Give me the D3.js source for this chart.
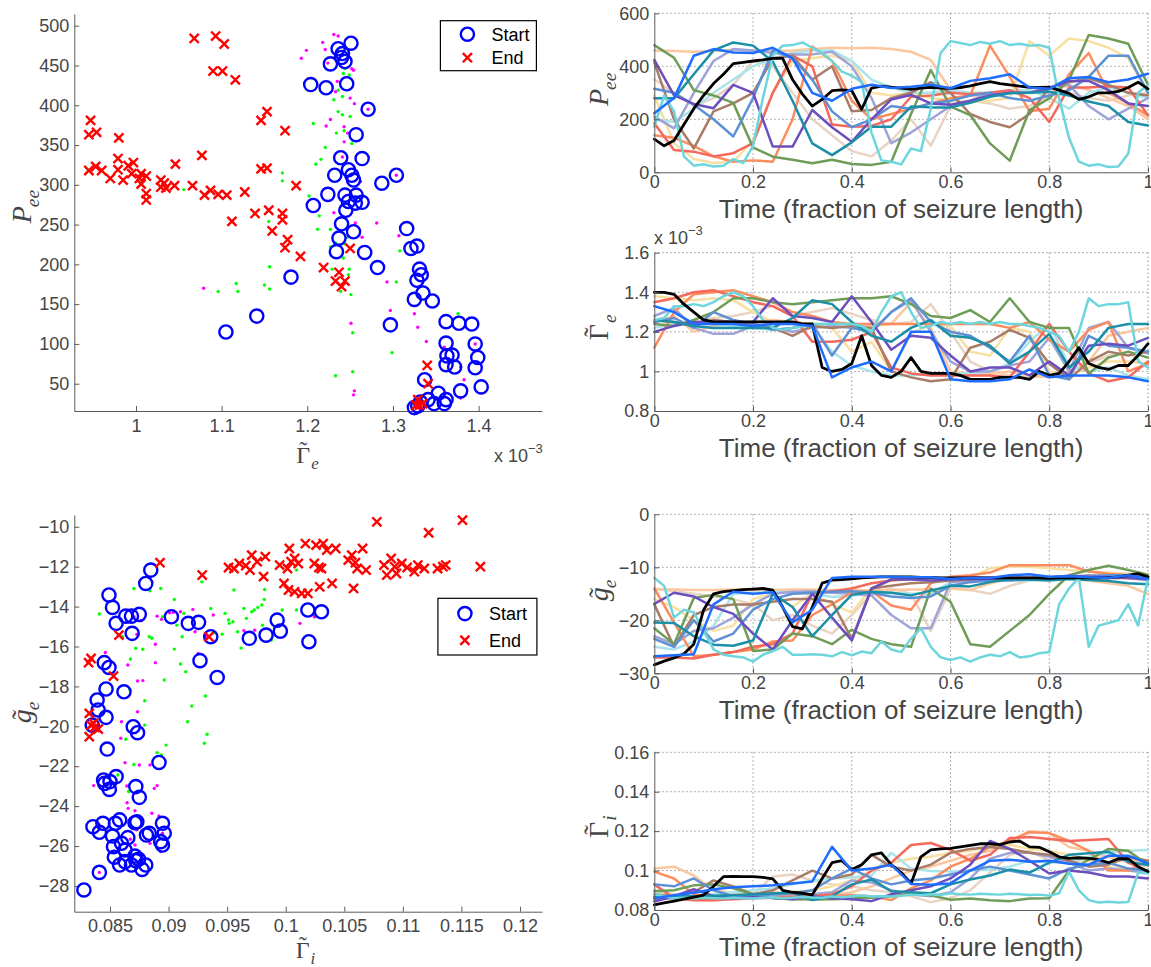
<!DOCTYPE html>
<html>
<head>
<meta charset="utf-8">
<script src="https://cdn.jsdelivr.net/npm/d3@7"></script>
<style>
  body { margin: 0; background: #fff; }
  svg { display: block; }
  text { font-family: "Liberation Sans", Arial, sans-serif; }
</style>
</head>
<body>
<svg id="fig" width="1151" height="967"></svg>
<script>
// ---------------- Scatter data: (Gamma_e [x1e-3], P_ee) ----------------
const startGammaEPee = [[1.251,478],[1.236,471],[1.241,465],[1.244,455],[1.227,452],[1.240,460],[1.204,426],[1.222,422],[1.246,427],[1.271,395],[1.257,363],[1.239,334],[1.264,333],[1.232,312],[1.248,319],[1.252,312],[1.254,306],[1.287,302],[1.304,312],[1.224,288],[1.244,287],[1.257,287],[1.207,274],[1.248,279],[1.256,277],[1.264,278],[1.245,268],[1.240,251],[1.254,241],[1.237,233],[1.234,216],[1.267,215],[1.282,196],[1.181,184],[1.316,245],[1.321,220],[1.328,223],[1.331,194],[1.333,187],[1.328,180],[1.335,164],[1.325,156],[1.346,154],[1.141,135],[1.105,115],[1.297,124],[1.362,128],[1.377,126],[1.392,125],[1.362,101],[1.396,100],[1.363,85],[1.369,86],[1.399,83],[1.362,74],[1.372,71],[1.396,70],[1.337,55],[1.379,41],[1.353,38],[1.403,46],[1.325,20],[1.332,27],[1.341,30],[1.348,25],[1.360,25],[1.362,30],[1.329,22]];
const endGammaEPee = [[0.947,381],[0.945,363],[0.954,366],[0.980,359],[0.945,318],[0.953,323],[0.960,318],[0.970,308],[0.979,333],[0.979,319],[0.985,306],[0.991,324],[0.997,328],[0.995,314],[1.004,308],[1.006,314],[1.012,311],[1.006,301],[1.012,289],[1.012,281],[1.029,306],[1.033,302],[1.029,297],[1.035,296],[1.045,299],[1.046,326],[1.066,299],[1.077,337],[1.080,287],[1.087,293],[1.096,288],[1.106,287],[1.127,291],[1.112,254],[1.139,264],[1.155,268],[1.159,242],[1.146,320],[1.153,321],[1.146,381],[1.153,392],[1.174,368],[1.171,264],[1.171,256],[1.177,231],[1.174,221],[1.192,210],[1.187,299],[1.068,484],[1.093,487],[1.103,477],[1.090,443],[1.101,443],[1.116,432],[1.219,196],[1.237,190],[1.233,179],[1.244,179],[1.240,172],[1.250,220],[1.340,73],[1.341,50],[1.329,30],[1.331,23],[1.335,25],[1.327,23]];
const midGreenGammaEPee = [[1.235,469],[1.241,463],[1.244,446],[1.242,440],[1.249,438],[1.236,419],[1.231,407],[1.241,411],[1.236,392],[1.241,388],[1.250,386],[1.207,377],[1.234,365],[1.243,368],[1.221,347],[1.216,332],[1.210,326],[1.252,352],[1.171,315],[1.171,305],[1.056,294],[1.202,286],[1.214,261],[1.212,244],[1.155,254],[1.227,244],[1.227,222],[1.233,227],[1.244,226],[1.247,234],[1.229,194],[1.242,208],[1.249,194],[1.248,187],[1.156,197],[1.150,174],[1.156,169],[1.117,176],[1.119,166],[1.096,166],[1.239,166],[1.251,162],[1.304,178],[1.308,217],[1.299,89],[1.253,114],[1.253,65],[1.233,60],[1.376,138]];
const midMagentaGammaEPee = [[1.231,489],[1.236,487],[1.218,479],[1.199,469],[1.193,459],[1.221,470],[1.224,453],[1.252,446],[1.254,444],[1.235,430],[1.233,417],[1.250,409],[1.255,402],[1.227,382],[1.222,374],[1.243,373],[1.247,365],[1.243,354],[1.241,335],[1.262,304],[1.231,265],[1.256,252],[1.264,234],[1.281,252],[1.307,236],[1.079,170],[1.293,178],[1.297,142],[1.325,138],[1.329,121],[1.251,126],[1.339,103],[1.360,96],[1.379,71],[1.383,55],[1.379,32],[1.255,41],[1.254,36],[1.304,312],[1.271,395],[1.396,100],[1.345,38]];

// ---------------- Scatter data: (Gamma_i, g_e) ----------------
const startGammaIGe = [[0.08277,-28.20],[0.08409,-27.32],[0.08354,-25.03],[0.08409,-25.31],[0.08439,-24.86],[0.08546,-24.86],[0.08582,-24.69],[0.08713,-24.83],[0.08729,-24.78],[0.08521,-25.50],[0.08652,-25.58],[0.08811,-25.45],[0.08835,-25.36],[0.08948,-24.86],[0.08963,-25.36],[0.08933,-25.78],[0.08948,-25.95],[0.08530,-26.03],[0.08598,-25.86],[0.08537,-26.56],[0.08582,-26.95],[0.08628,-26.78],[0.08683,-26.95],[0.08713,-26.50],[0.08720,-26.73],[0.08744,-26.66],[0.08774,-27.17],[0.08805,-26.95],[0.08628,-26.20],[0.08454,-22.86],[0.08500,-22.77],[0.08552,-22.52],[0.08494,-23.16],[0.08445,-22.69],[0.08720,-23.02],[0.08750,-23.56],[0.08476,-21.14],[0.08918,-21.81],[0.08698,-20.02],[0.08735,-20.32],[0.08348,-19.94],[0.08399,-19.18],[0.08390,-18.68],[0.08466,-19.55],[0.08466,-18.13],[0.08619,-18.27],[0.08451,-16.81],[0.08491,-17.05],[0.09268,-16.71],[0.09415,-17.55],[0.09360,-15.51],[0.08689,-15.34],[0.08552,-14.84],[0.08521,-14.04],[0.08491,-13.42],[0.08634,-14.48],[0.08683,-14.48],[0.08750,-14.39],[0.08805,-12.84],[0.08848,-12.17],[0.09024,-14.51],[0.09168,-14.84],[0.09256,-14.79],[0.09689,-15.59],[0.09832,-15.43],[0.09954,-15.23],[0.09927,-14.68],[0.10189,-14.17],[0.10305,-14.26],[0.10198,-15.76]];
const endGammaIGe = [[0.08317,-16.81],[0.08338,-16.60],[0.08323,-19.35],[0.08338,-19.94],[0.08369,-20.05],[0.08399,-20.14],[0.08323,-20.52],[0.08360,-19.85],[0.08530,-17.48],[0.08576,-15.43],[0.08927,-11.80],[0.09287,-12.42],[0.09345,-15.51],[0.09512,-12.04],[0.09558,-12.09],[0.09604,-11.84],[0.09659,-11.95],[0.09695,-12.17],[0.09710,-11.42],[0.09756,-11.75],[0.09811,-12.50],[0.09826,-11.50],[0.09948,-11.92],[0.09985,-12.84],[0.10015,-12.09],[0.10031,-11.09],[0.10046,-11.75],[0.10076,-11.59],[0.10107,-11.84],[0.10024,-13.17],[0.10076,-13.26],[0.10137,-13.34],[0.10168,-10.84],[0.10189,-13.34],[0.10244,-11.84],[0.10284,-12.04],[0.10290,-13.01],[0.10305,-12.09],[0.10259,-10.92],[0.10320,-10.84],[0.10351,-11.17],[0.10396,-12.84],[0.10427,-11.09],[0.10534,-11.67],[0.10564,-11.42],[0.10579,-13.09],[0.10595,-11.80],[0.10610,-12.09],[0.10656,-11.09],[0.10686,-12.17],[0.10778,-9.75],[0.10839,-11.92],[0.10863,-12.42],[0.10900,-11.59],[0.10930,-12.00],[0.10945,-12.34],[0.10991,-11.84],[0.11037,-12.04],[0.11098,-12.25],[0.11128,-11.92],[0.11183,-12.09],[0.11220,-10.30],[0.11296,-12.09],[0.11342,-12.00],[0.11366,-11.92],[0.11509,-9.67],[0.11662,-12.00]];
const midGreenGammaIGe = [[0.08409,-14.37],[0.08704,-13.09],[0.08841,-13.21],[0.08933,-13.09],[0.09284,-12.76],[0.09049,-13.64],[0.09070,-14.93],[0.09131,-14.34],[0.09116,-15.51],[0.09049,-16.13],[0.09101,-16.88],[0.09146,-17.26],[0.08963,-17.68],[0.09198,-18.98],[0.09162,-19.77],[0.09329,-20.40],[0.09305,-20.85],[0.09314,-18.48],[0.08979,-20.94],[0.08902,-21.32],[0.08939,-21.44],[0.08796,-19.94],[0.08796,-18.72],[0.08674,-16.63],[0.08720,-16.09],[0.08780,-16.14],[0.08607,-15.51],[0.08835,-15.51],[0.08668,-18.15],[0.08634,-20.65],[0.08567,-22.44],[0.08704,-21.91],[0.08659,-23.27],[0.09457,-15.38],[0.09384,-15.31],[0.09482,-14.34],[0.09558,-13.17],[0.09589,-15.26],[0.09518,-14.84],[0.09549,-14.76],[0.09643,-14.09],[0.09665,-14.59],[0.09710,-14.26],[0.09731,-14.17],[0.09762,-14.04],[0.09796,-13.92],[0.09817,-13.64],[0.09820,-13.14],[0.09802,-14.93],[0.09878,-15.68],[0.09970,-14.17],[0.10092,-12.17],[0.10092,-14.17],[0.09619,-16.08],[0.10250,-14.51],[0.08948,-14.51],[0.09360,-14.09],[0.09512,-14.67],[0.08857,-15.59]];
const midMagentaGammaIGe = [[0.08460,-16.30],[0.08652,-16.93],[0.08735,-17.73],[0.08780,-17.71],[0.08735,-19.27],[0.08598,-19.77],[0.08592,-20.60],[0.08628,-21.82],[0.08643,-22.99],[0.08750,-21.94],[0.08841,-21.94],[0.08646,-23.83],[0.08655,-24.11],[0.08713,-24.23],[0.08902,-22.97],[0.08878,-23.11],[0.08857,-24.36],[0.08918,-24.49],[0.08360,-22.97],[0.08729,-25.19],[0.08674,-25.66],[0.08841,-25.86],[0.08948,-25.36],[0.08933,-26.28],[0.08774,-26.50],[0.08713,-25.95],[0.08902,-14.48],[0.09040,-14.29],[0.09101,-14.26],[0.09207,-14.14],[0.09381,-14.42],[0.09339,-15.51],[0.09253,-16.35],[0.09226,-15.26],[0.08887,-15.89],[0.08887,-16.81],[0.08939,-14.64],[0.09009,-14.31],[0.09314,-15.51],[0.09643,-15.21],[0.09735,-15.18],[0.10122,-14.84],[0.10244,-14.51],[0.08704,-14.51],[0.08765,-14.71],[0.08729,-15.39],[0.08409,-27.32]];

// ---------------- Time courses (one trace per seizure) ----------------
const seriesNames  = ["beige","cream","peach","lightcyan","lavender","orange","red","brown","green","steelblue","purple","teal","cyan","black","blue"];
const seriesColors = ["#e9d4c4","#f8dfa2","#fcc79e","#a9e4ea","#9ea3d8","#fc8d5e","#f5685c","#a87c67","#6f9c57","#5e90d4","#6b4fbe","#1b8fa7","#6dd6dd","#000000","#1f6dff"];

const peeTraces = [
  [350,300,250,280,330,420,400,300,200,140,80,60,120,200,100,250,270,260,240,250,290,300,280,270,290,300],
  [290,110,50,35,40,120,300,420,430,440,420,300,290,300,280,270,265,270,280,495,440,505,495,470,430,300],
  [460,458,455,458,462,460,458,460,465,470,468,470,465,455,424,311,290,290,300,310,300,330,310,280,250,200],
  [200,190,240,300,350,400,430,450,460,460,420,350,320,300,300,310,300,300,310,310,280,240,300,320,300,280],
  [210,166,300,420,465,460,450,445,445,455,400,280,110,150,200,250,270,300,300,300,320,330,250,200,240,280],
  [140,130,100,60,40,45,40,200,475,420,270,200,220,240,260,280,290,478,360,230,240,370,450,300,260,215],
  [185,84,78,60,72,110,300,440,400,180,172,175,200,285,290,300,295,300,310,280,190,320,320,325,320,215],
  [415,200,90,230,260,300,430,440,350,400,230,235,280,300,340,300,220,190,170,220,320,340,355,330,300,290],
  [480,432,310,290,262,94,59,47,34,47,31,28,40,220,386,248,216,109,44,235,279,348,518,505,485,330],
  [315,300,255,200,135,280,460,430,350,230,170,200,250,240,260,270,290,300,280,270,290,310,360,440,440,300],
  [424,290,258,242,330,300,97,97,235,170,115,200,275,292,260,255,270,290,300,300,315,345,345,310,260,250],
  [279,279,370,460,490,478,418,270,109,65,113,172,172,248,245,245,262,285,298,300,304,290,267,250,190,177],
  [172,290,230,60,25,30,22,25,50,35,100,280,440,478,480,490,470,450,420,380,365,340,150,45,40,30,90,80,240,450,495,488,480,492,485,495,480,485,478,480,470,280,130,40,25,30,20,22,70,300,330],
  [125,100,120,180,240,290,335,370,410,415,420,424,430,430,350,295,250,275,308,311,308,238,318,325,321,318,313,318,321,318,317,320,326,335,342,335,330,325,321,320,321,310,298,275,285,300,300,305,320,340,315],
  [223,280,440,465,452,450,470,430,300,270,315,330,318,323,330,317,345,355,370,320,315,355,360,340,350,372]
];

// Gamma_e in units of 1e-3
const gammaETraces = [
  [1.26,1.24,1.25,1.27,1.28,1.30,1.33,1.28,1.30,1.32,1.29,1.26,1.24,1.25,1.34,1.20,1.05,1.00,0.98,0.97,0.98,1.00,1.04,1.08,1.10,1.02],
  [1.38,1.37,1.36,1.37,1.36,1.30,1.25,1.24,1.23,1.22,1.10,1.15,1.00,1.19,1.24,1.23,1.10,1.08,1.22,1.20,1.00,0.98,1.02,1.05,1.05,1.04],
  [1.25,1.28,1.20,1.23,1.24,1.25,1.26,1.25,1.24,1.24,1.24,1.23,1.24,1.35,1.22,1.00,0.99,0.99,1.00,0.98,0.97,1.00,1.05,1.18,1.20,1.22],
  [1.22,1.24,1.25,1.24,1.23,1.22,1.21,1.22,1.23,1.10,1.03,1.00,0.98,0.98,0.99,0.99,0.99,1.00,1.04,1.15,1.24,1.03,1.00,1.02,0.98,0.96],
  [1.28,1.32,1.22,1.19,1.19,1.23,1.22,1.20,1.22,1.23,1.22,1.20,1.30,1.36,1.20,1.05,1.00,1.00,1.03,1.05,1.17,1.00,1.22,1.25,1.12,1.09],
  [1.12,1.30,1.39,1.40,1.41,1.38,1.35,1.30,1.28,1.25,1.24,1.24,1.24,1.24,1.24,1.24,1.24,1.24,1.22,1.25,1.16,1.10,1.21,1.25,1.00,1.04],
  [1.35,1.37,1.40,1.41,1.38,1.35,1.33,1.28,1.15,1.15,1.16,1.20,1.02,0.99,0.98,0.98,0.98,0.98,0.97,1.10,1.24,1.10,0.99,0.95,0.97,1.05],
  [1.26,1.25,1.23,1.26,1.25,1.24,1.22,1.18,1.23,1.22,1.23,1.22,1.00,0.97,0.95,0.96,1.12,1.15,1.21,1.17,1.04,0.96,1.05,1.10,1.08,1.10],
  [1.24,1.23,1.26,1.30,1.37,1.37,1.35,1.34,1.35,1.36,1.37,1.37,1.38,1.34,1.28,1.27,1.31,1.25,1.37,1.25,1.22,1.22,0.99,1.07,1.10,1.07],
  [1.25,1.27,1.22,1.30,1.26,1.24,1.21,1.22,1.24,1.08,1.22,1.20,1.30,1.37,1.25,1.20,1.18,1.12,1.05,1.18,0.98,0.96,1.18,1.13,1.12,1.10],
  [1.20,1.23,1.25,1.25,1.25,1.25,1.37,1.28,1.27,1.25,1.38,1.25,1.11,1.18,1.17,1.08,1.00,1.02,1.02,0.98,1.05,0.98,1.13,1.14,1.13,1.17],
  [1.26,1.25,1.23,1.22,1.22,1.22,1.22,1.27,1.36,1.34,1.25,1.18,1.15,1.22,1.26,1.18,1.17,1.13,1.04,1.10,1.19,1.02,1.10,1.22,1.24,1.24],
  [1.26,1.27,1.33,1.33,1.34,1.33,1.35,1.38,1.40,1.38,1.33,1.26,1.22,1.21,1.22,1.23,1.24,1.24,1.24,1.24,1.24,1.23,1.20,1.30,1.38,1.40,1.30,1.22,1.23,1.25,1.24,1.25,1.24,1.25,1.24,1.25,1.24,1.24,1.23,1.22,1.20,1.18,1.10,1.20,1.37,1.33,1.34,1.34,1.35,1.05,1.02],
  [1.40,1.40,1.39,1.34,1.30,1.26,1.25,1.25,1.25,1.25,1.25,1.25,1.25,1.25,1.25,1.24,1.24,1.02,1.00,1.01,1.04,1.18,1.03,0.98,0.97,1.00,1.07,1.00,0.99,0.99,0.99,0.98,0.96,0.96,0.96,0.97,0.97,0.97,0.96,1.00,0.98,0.99,1.05,1.12,1.04,1.02,1.01,1.03,1.03,1.08,1.14],
  [1.33,1.30,1.24,1.24,1.24,1.23,1.24,1.24,1.23,0.97,1.02,1.05,1.00,1.20,1.20,0.96,0.95,0.95,0.96,1.01,0.97,0.98,0.98,0.98,0.97,0.95]
];

const geTraces = [
  [-14.0,-14.5,-15.0,-15.5,-16.0,-17.0,-20.0,-19.0,-21.0,-22.5,-19.0,-15.0,-14.0,-15.0,-22.0,-14.0,-14.3,-15.0,-13.5,-12.5,-12.3,-12.0,-12.0,-11.8,-12.0,-12.5],
  [-16.0,-17.5,-20.0,-22.0,-21.0,-16.0,-15.0,-17.5,-14.8,-17.0,-18.5,-14.0,-12.5,-12.0,-12.0,-12.3,-12.0,-10.2,-9.8,-9.9,-10.2,-10.5,-10.8,-11.0,-11.2,-11.5],
  [-14.2,-14.2,-14.3,-14.3,-14.2,-14.3,-14.3,-14.2,-14.2,-14.3,-14.3,-14.4,-14.3,-14.2,-14.2,-14.0,-14.3,-13.0,-12.2,-12.0,-12.0,-12.2,-12.5,-13.0,-13.5,-15.0],
  [-25.0,-25.5,-24.0,-21.0,-15.0,-14.8,-14.6,-14.8,-15.0,-15.6,-15.3,-15.0,-14.8,-15.0,-15.0,-12.8,-12.5,-12.5,-12.4,-12.5,-12.3,-12.2,-12.0,-12.0,-12.0,-12.5],
  [-23.0,-24.5,-22.0,-21.5,-19.5,-17.0,-15.0,-14.6,-14.5,-14.8,-15.0,-15.3,-19.0,-21.5,-21.5,-12.8,-12.5,-12.4,-12.3,-12.2,-12.0,-11.8,-11.5,-11.5,-11.6,-12.0],
  [-14.0,-20.4,-26.8,-26.5,-26.0,-25.5,-24.0,-23.8,-19.0,-17.0,-14.7,-14.5,-17.2,-18.0,-13.0,-11.8,-11.5,-11.0,-9.6,-9.6,-9.6,-9.6,-10.8,-11.2,-11.5,-11.8],
  [-27.0,-27.0,-27.2,-26.5,-26.0,-25.0,-24.5,-22.5,-15.0,-14.5,-14.0,-13.0,-12.5,-12.2,-12.0,-12.0,-11.8,-12.0,-12.0,-12.0,-12.2,-12.0,-12.0,-12.0,-12.0,-12.0],
  [-17.0,-25.0,-19.0,-17.5,-17.0,-17.0,-16.5,-16.0,-16.0,-16.5,-23.5,-14.0,-13.5,-13.0,-12.8,-12.5,-12.3,-12.0,-12.0,-12.2,-12.0,-11.8,-11.8,-11.8,-11.9,-12.0],
  [-21.5,-24.5,-15.8,-15.2,-16.0,-25.8,-25.5,-22.5,-23.0,-24.5,-21.8,-23.5,-24.5,-25.0,-14.0,-16.5,-24.5,-25.0,-22.0,-19.0,-15.0,-11.5,-10.5,-9.7,-10.5,-11.4],
  [-23.5,-25.0,-20.0,-24.0,-22.5,-18.0,-16.0,-15.0,-14.8,-14.6,-14.5,-14.8,-15.5,-15.8,-15.5,-13.5,-12.8,-12.5,-12.5,-12.3,-12.2,-12.0,-11.8,-11.5,-11.5,-11.8],
  [-16.9,-14.8,-15.5,-17.5,-18.8,-22.5,-25.5,-20.0,-15.0,-19.5,-23.8,-14.0,-12.3,-12.3,-12.5,-12.3,-12.2,-12.2,-12.0,-12.0,-11.9,-11.6,-11.8,-11.9,-12.0,-12.3],
  [-20.4,-20.5,-23.0,-24.6,-24.8,-23.8,-15.0,-17.5,-23.0,-19.0,-15.2,-14.6,-14.8,-15.3,-14.4,-13.5,-13.6,-12.8,-12.2,-12.3,-12.5,-12.2,-12.4,-12.6,-13.0,-13.2],
  [-12.0,-13.5,-19.5,-18.0,-18.5,-22.0,-25.5,-26.5,-26.8,-27.0,-27.8,-26.5,-25.8,-25.0,-26.5,-26.5,-26.4,-26.5,-26.8,-26.0,-26.6,-25.9,-26.2,-24.0,-25.5,-26.0,-23.5,-21.5,-25.0,-27.0,-27.5,-27.0,-27.8,-27.0,-26.5,-26.8,-26.0,-27.0,-26.8,-26.2,-26.0,-17.0,-14.0,-12.0,-25.0,-21.0,-20.5,-20.0,-17.0,-21.0,-12.0],
  [-28.4,-27.7,-27.1,-26.3,-24.5,-18.0,-15.0,-14.6,-14.4,-14.2,-14.1,-14.0,-14.3,-17.5,-21.2,-21.6,-17.5,-13.0,-12.4,-12.3,-12.2,-12.0,-11.9,-11.8,-11.8,-11.8,-11.8,-11.9,-11.9,-12.0,-12.0,-12.0,-12.0,-12.0,-12.0,-12.0,-12.0,-12.0,-12.0,-12.0,-12.1,-12.0,-12.0,-12.0,-12.0,-12.0,-12.0,-11.8,-11.5,-11.2,-11.8],
  [-26.8,-26.6,-26.4,-17.0,-14.6,-15.0,-14.7,-20.4,-18.0,-12.0,-11.8,-11.8,-11.8,-11.9,-11.9,-12.2,-12.0,-12.0,-11.5,-11.3,-11.8,-11.7,-11.9,-12.0,-11.5,-12.2]
];

const gammaITraces = [
  [0.0900,0.0880,0.0865,0.0860,0.0870,0.0880,0.0970,0.0980,0.0950,0.0930,0.0920,0.0900,0.0890,0.0870,0.0840,0.0860,0.0900,0.0990,0.1080,0.1100,0.1050,0.1040,0.1060,0.1070,0.1040,0.1020],
  [0.0880,0.0860,0.0855,0.0850,0.0860,0.0870,0.0880,0.0890,0.0900,0.0920,0.0950,0.1000,0.1040,0.1060,0.1070,0.1090,0.1100,0.1120,0.1130,0.1110,0.1100,0.1080,0.1050,0.1020,0.1000,0.0990],
  [0.1010,0.1020,0.0975,0.0900,0.0885,0.0880,0.0890,0.0880,0.0870,0.0875,0.0890,0.0920,0.0960,0.1000,0.1020,0.1050,0.1080,0.1100,0.1150,0.1200,0.1190,0.1120,0.1100,0.1070,0.1060,0.1040],
  [0.0860,0.0865,0.0870,0.0880,0.0890,0.0900,0.0910,0.0930,0.0950,0.0960,0.0965,0.0975,0.1090,0.1010,0.0998,0.0995,0.1000,0.1005,0.1020,0.1050,0.1040,0.1045,0.1070,0.1090,0.1100,0.1105],
  [0.0855,0.0860,0.0858,0.0862,0.0865,0.0870,0.0868,0.0875,0.0880,0.0890,0.0950,0.0940,0.0900,0.0880,0.0870,0.0890,0.0960,0.1060,0.1090,0.1090,0.1070,0.1040,0.1000,0.1010,0.1000,0.0990],
  [0.0995,0.0960,0.0880,0.0865,0.0860,0.0862,0.0865,0.0868,0.0870,0.0872,0.0875,0.0870,0.0850,0.0910,0.0950,0.1020,0.1060,0.1120,0.1150,0.1195,0.1190,0.1150,0.1100,0.1000,0.1000,0.1050],
  [0.0930,0.0860,0.0850,0.0850,0.0855,0.0860,0.0862,0.0865,0.0870,0.0880,0.0920,0.1000,0.1040,0.1130,0.1140,0.1105,0.1050,0.1080,0.1165,0.1170,0.1160,0.1150,0.1155,0.1160,0.1040,0.0995],
  [0.0880,0.0870,0.0890,0.0950,0.0920,0.0880,0.0900,0.0950,0.1000,0.0960,0.0980,0.1080,0.1020,0.1000,0.1030,0.1090,0.1110,0.1120,0.1110,0.1090,0.1080,0.1050,0.1020,0.1030,0.1070,0.1050],
  [0.0895,0.0900,0.0925,0.0930,0.0910,0.0880,0.0860,0.0855,0.0853,0.0855,0.0858,0.0862,0.0870,0.0880,0.0875,0.0852,0.0858,0.0850,0.0845,0.0858,0.0860,0.1000,0.1055,0.1110,0.1100,0.1028],
  [0.0930,0.0920,0.0960,0.0900,0.0870,0.0870,0.0880,0.0885,0.0900,0.0960,0.1010,0.0960,0.0930,0.0950,0.0960,0.0980,0.1000,0.1020,0.1000,0.0980,0.0960,0.1010,0.1030,0.1040,0.1010,0.1000],
  [0.0843,0.0870,0.0905,0.0870,0.0860,0.0865,0.0862,0.0855,0.0870,0.0860,0.0855,0.0845,0.0880,0.0900,0.0920,0.0960,0.1030,0.1150,0.1110,0.1050,0.0985,0.1000,0.0990,0.0970,0.0970,0.0960],
  [0.0868,0.0868,0.0870,0.0872,0.0875,0.0880,0.0885,0.0888,0.0850,0.0870,0.0930,0.0955,0.0895,0.0890,0.0885,0.0930,0.0955,0.0975,0.1005,0.0990,0.1040,0.1080,0.1088,0.1095,0.1045,0.1028],
  [0.0880,0.0870,0.0860,0.0862,0.0858,0.0862,0.0860,0.0858,0.0862,0.0860,0.0858,0.0862,0.0865,0.0860,0.0862,0.0866,0.0863,0.0862,0.0868,0.0865,0.0870,0.0873,0.0868,0.0870,0.0868,0.0872,0.0878,0.0875,0.0880,0.0876,0.0885,0.0880,0.0878,0.0882,0.0880,0.0878,0.0882,0.0880,0.0876,0.0878,0.0872,0.0885,0.0995,0.0900,0.0850,0.0838,0.0842,0.0838,0.0840,0.0990,0.0985],
  [0.0826,0.0836,0.0845,0.0855,0.0865,0.0876,0.0920,0.0969,0.0970,0.0969,0.0969,0.0965,0.0958,0.0900,0.0890,0.0885,0.0877,0.0960,0.1040,0.1050,0.1005,0.1030,0.1080,0.1090,0.1030,0.0990,0.0935,0.1070,0.1105,0.1110,0.1113,0.1120,0.1128,0.1136,0.1136,0.1132,0.1145,0.1150,0.1120,0.1118,0.1095,0.1070,0.1062,0.1065,0.1062,0.1055,0.1040,0.1060,0.1060,0.1020,0.0995],
  [0.0859,0.0875,0.0888,0.0905,0.0915,0.0920,0.0925,0.0935,0.0945,0.1120,0.1000,0.1010,0.1030,0.0932,0.0928,0.0935,0.1000,0.1050,0.1055,0.1045,0.1050,0.1035,0.1030,0.1075,0.1075,0.1037]
];

// ---------------- Tick values ----------------
const gammaETicksScatter = [1, 1.1, 1.2, 1.3, 1.4];
const peeTicksScatter    = [50, 100, 150, 200, 250, 300, 350, 400, 450, 500];
const gammaITicksScatter = [0.085, 0.09, 0.095, 0.1, 0.105, 0.11, 0.115, 0.12];
const geTicksScatter     = [-28, -26, -24, -22, -20, -18, -16, -14, -12, -10];
const timeTicks   = [0, 0.2, 0.4, 0.6, 0.8, 1];
const peeTicks    = [0, 200, 400, 600];
const gammaETicks = [0.8, 1, 1.2, 1.4, 1.6];
const geTicks     = [-30, -20, -10, 0];
const gammaITicks = [0.08, 0.1, 0.12, 0.14, 0.16];
const legendLabels = ["Start", "End"];
const timeLabel = "Time (fraction of seizure length)";

// ---------------- Drawing ----------------
const svg = d3.select("#fig");
svg.append("rect").attr("width", 1151).attr("height", 967).attr("fill", "#fff");

const TEXT = "#454545";
const AXIS = "#5a5a5a";
const fmtTick = d => String(+d.toFixed(4)).replace("-", "\u2212");

function styleAxis(g, fontSize) {
  g.select(".domain").attr("stroke", AXIS).attr("stroke-width", 1);
  g.selectAll(".tick line").attr("stroke", AXIS).attr("stroke-width", 1);
  g.selectAll(".tick text").attr("fill", TEXT).style("font-size", fontSize + "px")
    .style("font-family", "'Liberation Sans', Arial, sans-serif");
}

// math-style axis label: base glyph, optional tilde accent, subscript
function mathLabel(parent, spec, cx, cy, rot, size) {
  const g = parent.append("g").attr("transform", `translate(${cx},${cy}) rotate(${rot})`);
  const inner = g.append("g");
  const serif = "'Liberation Serif', 'Times New Roman', serif";
  const base = inner.append("text").attr("x", 0).attr("y", 0.33 * size)
    .attr("fill", TEXT).style("font-family", serif).style("font-size", size + "px")
    .style("font-style", spec.italic ? "italic" : "normal").text(spec.base);
  const wb = base.node().getComputedTextLength();
  const sub = inner.append("text").attr("x", wb + (spec.italic ? -1 : 1)).attr("y", 0.33 * size + 0.26 * size)
    .attr("fill", TEXT).style("font-family", serif).style("font-size", (size * 0.7) + "px")
    .style("font-style", "italic").text(spec.sub);
  const ws = sub.node().getComputedTextLength();
  if (spec.tilde) {
    inner.append("text").attr("x", wb / 2 + (spec.italic ? size * 0.06 : 0))
      .attr("y", 0.33 * size - (spec.italic ? 0.0 : 0.2) * size)
      .attr("text-anchor", "middle").attr("fill", TEXT)
      .style("font-family", serif).style("font-size", size + "px").text("\u02DC");
  }
  inner.attr("transform", `translate(${-(wb + ws) / 2},0)`);
}

function exponentNote(parent, x, y) {
  const t = parent.append("text").attr("x", x).attr("y", y).attr("fill", TEXT).style("font-size", "18px");
  t.append("tspan").text("x 10");
  t.append("tspan").attr("dy", -9).style("font-size", "13px").text("\u22123");
}

function drawScatter(cfg) {
  const x = d3.scaleLinear().domain(cfg.xDomain).range([74.3, 542]);
  const y = d3.scaleLinear().domain(cfg.yDomain).range([cfg.bottom, cfg.top]);
  const g = svg.append("g");

  const ax = g.append("g").attr("transform", `translate(0,${cfg.bottom})`)
    .call(d3.axisBottom(x).tickValues(cfg.xTicks).tickFormat(fmtTick).tickSizeInner(-5).tickSizeOuter(0).tickPadding(8));
  styleAxis(ax, 18);
  const ay = g.append("g").attr("transform", `translate(74.3,0)`)
    .call(d3.axisLeft(y).tickValues(cfg.yTicks).tickFormat(fmtTick).tickSizeInner(-5).tickSizeOuter(0).tickPadding(5));
  styleAxis(ay, 18);

  g.append("g").selectAll("circle").data(cfg.green).join("circle")
    .attr("cx", d => x(d[0])).attr("cy", d => y(d[1])).attr("r", 1.7).attr("fill", "#00ff00");
  g.append("g").selectAll("circle").data(cfg.magenta).join("circle")
    .attr("cx", d => x(d[0])).attr("cy", d => y(d[1])).attr("r", 1.7).attr("fill", "#ff00ff");
  g.append("g").selectAll("circle").data(cfg.start).join("circle")
    .attr("cx", d => x(d[0])).attr("cy", d => y(d[1])).attr("r", 6.6)
    .attr("fill", "none").attr("stroke", "#0000ff").attr("stroke-width", 2.4);
  const cross = d3.symbol(d3.symbolTimes, 56);
  g.append("g").selectAll("path").data(cfg.end).join("path")
    .attr("transform", d => `translate(${x(d[0])},${y(d[1])})`).attr("d", cross)
    .attr("fill", "none").attr("stroke", "#ff0000").attr("stroke-width", 2.4);

  // legend
  const L = cfg.legend;
  const lg = g.append("g");
  lg.append("rect").attr("x", L.x).attr("y", L.y).attr("width", L.w).attr("height", L.h)
    .attr("fill", "#fff").attr("stroke", "#000").attr("stroke-width", 1.2);
  lg.append("circle").attr("cx", L.x + 27).attr("cy", L.y + L.h * 0.27).attr("r", 6.6)
    .attr("fill", "none").attr("stroke", "#0000ff").attr("stroke-width", 2.4);
  lg.append("path").attr("transform", `translate(${L.x + 27},${L.y + L.h * 0.74})`).attr("d", cross)
    .attr("fill", "none").attr("stroke", "#ff0000").attr("stroke-width", 2.4);
  legendLabels.forEach((s, i) => {
    lg.append("text").attr("x", L.x + 51).attr("y", L.y + L.h * (i ? 0.74 : 0.27) + 6.5)
      .attr("fill", "#000").style("font-size", "18px").text(s);
  });
  return g;
}

// top-left: P_ee vs Gamma_e
drawScatter({
  xDomain: [0.928, 1.474], yDomain: [15.7, 514.7], top: 14, bottom: 411,
  xTicks: gammaETicksScatter, yTicks: peeTicksScatter,
  start: startGammaEPee, end: endGammaEPee, green: midGreenGammaEPee, magenta: midMagentaGammaEPee,
  legend: { x: 440.4, y: 20.7, w: 96, h: 50 }
});
mathLabel(svg, { base: "P", italic: true, sub: "ee" }, 22, 206, -90, 28);
mathLabel(svg, { base: "\u0393", italic: false, sub: "e", tilde: true }, 307, 455, 0, 24);
exponentNote(svg, 494, 462);

// bottom-left: g_e vs Gamma_i
drawScatter({
  xDomain: [0.08195, 0.12188], yDomain: [-29.29, -9.41], top: 515, bottom: 911.7,
  xTicks: gammaITicksScatter, yTicks: geTicksScatter,
  start: startGammaIGe, end: endGammaIGe, green: midGreenGammaIGe, magenta: midMagentaGammaIGe,
  legend: { x: 437.9, y: 598.3, w: 99, h: 56.7 }
});
mathLabel(svg, { base: "g", italic: true, sub: "e", tilde: true }, 22, 712, -90, 28);
mathLabel(svg, { base: "\u0393", italic: false, sub: "i", tilde: true }, 305, 950, 0, 24);

// right column: time courses
const RX = [654.3, 1148];
function drawTimePanel(cfg) {
  const x = d3.scaleLinear().domain([0, 1]).range(RX);
  const y = d3.scaleLinear().domain(cfg.yDomain).range([cfg.bottom, cfg.top]);
  const g = svg.append("g");
  const grid = g.append("g").attr("stroke", "#7d7d7d").attr("stroke-width", 1).attr("stroke-dasharray", "1.2,2.8");
  grid.selectAll("line.v").data(timeTicks.slice(1)).join("line").attr("class", "v")
    .attr("x1", d => x(d)).attr("x2", d => x(d)).attr("y1", cfg.top).attr("y2", cfg.bottom);
  grid.selectAll("line.h").data(cfg.yTicks.slice(1)).join("line").attr("class", "h")
    .attr("x1", RX[0]).attr("x2", RX[1]).attr("y1", d => y(d)).attr("y2", d => y(d));

  const lines = g.append("g").attr("fill", "none").attr("stroke-linejoin", "round").attr("stroke-linecap", "round");
  cfg.traces.forEach((vals, k) => {
    const n = vals.length;
    const line = d3.line().x((d, i) => x(i / (n - 1))).y(d => y(d));
    lines.append("path").attr("d", line(vals)).attr("stroke", seriesColors[k])
      .attr("stroke-width", seriesNames[k] === "black" ? 2.8 : 2.5);
  });

  const ax = g.append("g").attr("transform", `translate(0,${cfg.bottom})`)
    .call(d3.axisBottom(x).tickValues(timeTicks).tickFormat(fmtTick).tickSizeInner(-5).tickSizeOuter(0).tickPadding(3));
  styleAxis(ax, 18);
  const ay = g.append("g").attr("transform", `translate(${RX[0]},0)`)
    .call(d3.axisLeft(y).tickValues(cfg.yTicks).tickFormat(fmtTick).tickSizeInner(-5).tickSizeOuter(0).tickPadding(5));
  styleAxis(ay, 18);

  g.append("text").attr("x", (RX[0] + RX[1]) / 2).attr("y", cfg.bottom + 46).attr("text-anchor", "middle")
    .attr("fill", TEXT).style("font-size", "26px").text(timeLabel);
  mathLabel(svg, cfg.label, 599, (cfg.top + cfg.bottom) / 2 - 4, -90, 28);
}

drawTimePanel({ yDomain: [0, 600], yTicks: peeTicks, top: 13.3, bottom: 172.3, traces: peeTraces,
  label: { base: "P", italic: true, sub: "ee" } });
drawTimePanel({ yDomain: [0.8, 1.6], yTicks: gammaETicks, top: 252.7, bottom: 411, traces: gammaETraces,
  label: { base: "\u0393", italic: false, sub: "e", tilde: true } });
exponentNote(svg, 654, 244);
drawTimePanel({ yDomain: [-30, 0], yTicks: geTicks, top: 514.3, bottom: 673.3, traces: geTraces,
  label: { base: "g", italic: true, sub: "e", tilde: true } });
drawTimePanel({ yDomain: [0.08, 0.16], yTicks: gammaITicks, top: 752.3, bottom: 910, traces: gammaITraces,
  label: { base: "\u0393", italic: false, sub: "i", tilde: true } });
</script>
</body>
</html>
